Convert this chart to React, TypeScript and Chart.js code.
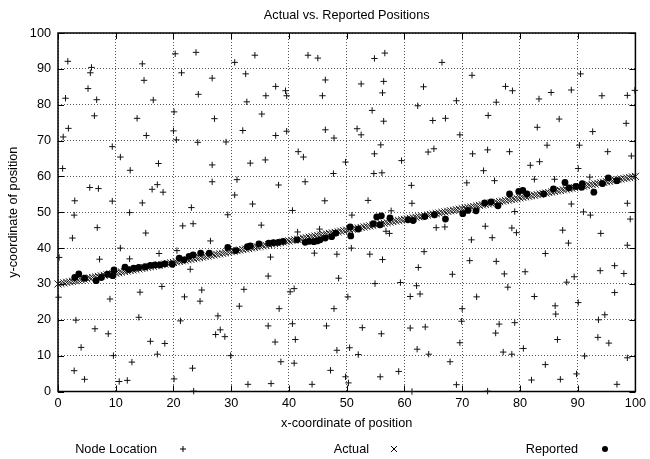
import React, { useEffect, useRef } from "react";
import { Chart, registerables } from "chart.js";

Chart.register(...registerables);

const titleText = "Actual vs. Reported Positions";
const xTitle = "x-coordinate of position";
const yTitle = "y-coordinate of position";
const legendLabels = ["Node Location", "Actual", "Reported"];
const axisMin = 0;
const axisMax = 100;
const tickStep = 10;

// Node Location (+)
const nodeX = [
  1.7, 5.8, 5.6, 5.2, 1.3, 6.7, 6.3, 1.8, 0.9, 0.8, 9.4, 10.8, 12.5, 5.5, 7.0, 2.9, 9.4,
  14.6, 14.9, 16.5, 13.7, 15.3, 17.4, 17.2, 16.3, 18.2, 14.6, 20.3, 23.9, 21.4, 26.7, 24.3,
  20.1, 27.1, 20.0, 20.5, 24.2, 29.1, 26.7, 26.7, 23.1, 30.6, 32.5, 32.7, 32.0, 31.0, 30.6,
  34.1, 37.7, 39.4, 39.6, 36.0, 35.3, 37.7, 39.6, 33.3, 35.9, 38.2, 33.7, 43.3, 45.0, 46.3,
  45.8, 46.3, 47.8, 41.6, 42.5, 49.8, 47.7, 42.8, 46.2, 54.8, 56.6, 52.5, 56.4, 56.2, 54.4,
  56.4, 51.8, 52.5, 55.9, 54.8, 59.5, 54.7, 56.1, 53.7, 61.2, 61.3, 63.3, 62.3, 64.9, 64.1,
  65.1,
  66.5, 71.7, 77.5, 78.7, 69.0, 75.9, 67.1, 74.5, 69.6, 71.8, 74.4, 78.2, 73.7, 75.6, 70.8,
  83.3, 85.4, 88.9, 90.5, 94.2, 98.6, 99.9, 83.0, 86.8, 92.6, 98.4, 84.7, 90.3, 95.2, 99.3,
  81.8, 83.4, 90.1, 82.5, 86.0, 92.1, 88.9, 98.6,
  2.8, 12.4, 29.4, 6.8, 21.6, 23.4, 15.2, 2.5, 26.4, 10.8, 17.5, 20.6, 0.2, 7.2, 12.4, 22.9,
  0.1, 9.0, 14.2, 18.0, 21.9, 24.9, 24.6, 32.2, 31.4, 14.0, 3.1, 21.2, 27.7, 6.4, 8.7, 27.3,
  28.1, 28.9, 4.0, 16.0, 18.5, 17.2, 9.6, 29.9, 12.8, 2.8, 23.3, 4.6, 10.6, 12.0, 20.1, 23.5,
  32.9,
  40.6, 50.9, 57.7, 35.2, 41.5, 45.3, 56.8, 57.4, 50.8, 44.4, 48.3, 54.0, 56.2, 63.4, 36.8,
  62.4, 36.4, 48.6, 54.9, 59.3, 62.1, 62.7, 61.0, 40.2, 40.9, 50.2, 38.3, 47.8, 36.4, 40.6,
  46.5, 52.7, 56.0, 61.0, 63.6, 37.6, 41.1, 48.3, 50.5, 52.0, 62.2, 64.2, 38.6, 40.9, 47.2,
  49.8, 50.3, 59.0, 55.8, 36.9, 44.0, 61.3,
  79.1, 91.0, 92.2, 99.1, 65.5, 67.0, 74.0, 78.6, 79.4, 71.6, 75.2, 87.4, 94.0, 88.4, 98.6,
  84.4, 71.3, 75.9, 68.3, 77.3, 80.9, 93.9, 96.4, 98.0, 89.4, 88.1, 77.9, 72.5, 82.5, 90.1,
  96.4, 70.0, 69.9, 86.1, 86.2, 94.7, 93.6, 76.4, 79.1, 75.8, 69.6, 86.5, 93.5, 95.4, 80.6,
  77.1, 78.6, 91.2, 98.6, 67.9, 84.4, 89.8, 82.0, 87.0, 69.0, 74.4, 96.8,
];
const nodeY = [
  92.1, 90.4, 88.9, 84.5, 81.8, 81.4, 76.9, 73.4, 71.0, 62.2, 68.3, 65.4, 61.7, 56.9, 56.6, 53.2, 53.1,
  91.4, 86.8, 81.3, 76.2, 71.4, 63.6, 57.7, 56.4, 55.6, 52.6, 94.2, 94.6, 88.9, 87.4, 82.9,
  78.0, 76.1, 72.7, 70.2, 69.5, 69.6, 63.2, 58.5, 51.3, 91.8, 88.6, 80.8, 72.8, 59.1, 54.8,
  93.8, 85.1, 83.9, 82.5, 82.5, 77.4, 71.4, 72.6, 63.7, 64.6, 57.6, 52.3, 93.8, 93.0, 86.9,
  82.5, 73.0, 70.7, 66.9, 65.4, 64.0, 60.8, 58.5, 53.2, 92.9, 94.4, 85.8, 86.5, 83.3, 78.4,
  75.4, 73.3, 71.6, 68.8, 66.3, 64.4, 60.8, 61.0, 53.3, 57.5, 52.5, 85.0, 79.7, 75.6, 66.8,
  67.7,
  91.8, 88.2, 85.1, 83.9, 81.1, 80.7, 76.2, 77.0, 71.6, 66.3, 67.4, 66.9, 61.6, 58.8, 58.2,
  81.6, 83.4, 84.1, 88.6, 82.5, 82.6, 84.0, 73.7, 76.0, 72.5, 74.8, 68.7, 68.7, 66.9, 65.7,
  63.1, 64.1, 62.2, 59.2, 59.2, 59.8, 52.3, 52.5,
  49.2, 49.9, 49.3, 45.7, 46.2, 46.8, 44.2, 42.8, 42.0, 40.0, 38.5, 39.3, 37.4, 36.9, 37.0, 34.1,
  26.3, 25.8, 27.7, 29.3, 26.4, 28.3, 25.2, 28.5, 23.8, 20.7, 19.9, 19.7, 21.1, 17.5, 16.1, 15.9,
  17.2, 15.3, 12.3, 14.0, 13.4, 10.4, 10.0, 10.0, 8.2, 5.8, 6.5, 3.4, 2.8, 3.1, 3.5, 0.1,
  2.0,
  50.5, 49.2, 50.4, 46.4, 44.5, 45.3, 44.7, 44.1, 40.0, 38.6, 38.3, 38.3, 36.8, 39.0, 37.5,
  34.6, 32.2, 31.6, 30.1, 30.4, 29.5, 27.2, 26.5, 27.8, 28.7, 26.4, 23.1, 23.1, 18.3, 18.9,
  18.3, 17.8, 16.1, 17.7, 18.0, 13.8, 14.5, 11.5, 12.2, 10.3, 11.8, 10.4, 8.3, 7.9, 5.9,
  4.1, 2.4, 5.6, 4.1, 2.2, 2.0, 0.0,
  50.2, 50.1, 49.2, 48.1, 45.7, 45.9, 46.1, 45.6, 44.3, 42.3, 42.9, 45.0, 44.1, 41.4, 40.8,
  38.5, 36.5, 36.3, 32.7, 32.8, 33.4, 33.7, 35.1, 32.9, 32.0, 30.5, 29.1, 26.4, 26.5, 24.8,
  27.6, 23.1, 19.6, 23.9, 21.6, 21.4, 20.0, 18.8, 19.2, 16.3, 13.6, 14.5, 15.1, 13.5, 12.0,
  11.0, 10.4, 9.9, 9.4, 8.3, 7.5, 4.9, 3.2, 3.4, 1.9, 0.1, 2.0,
];

// Actual (x)
const actualX = [
  0, 0.5, 1, 1.5, 2, 2.5, 3, 3.5, 4, 4.5, 5, 5.5, 6, 6.5, 7, 7.5, 8, 8.5, 9, 9.5,
  10, 10.5, 11, 11.5, 12, 12.5, 13, 13.5, 14, 14.5, 15, 15.5, 16, 16.5, 17, 17.5, 18, 18.5, 19, 19.5,
  20, 20.5, 21, 21.5, 22, 22.5, 23, 23.5, 24, 24.5, 25, 25.5, 26, 26.5, 27, 27.5, 28, 28.5, 29, 29.5,
  30, 30.5, 31, 31.5, 32, 32.5, 33, 33.5, 34, 34.5, 35, 35.5, 36, 36.5, 37, 37.5, 38, 38.5, 39, 39.5,
  40, 40.5, 41, 41.5, 42, 42.5, 43, 43.5, 44, 44.5, 45, 45.5, 46, 46.5, 47, 47.5, 48, 48.5, 49, 49.5,
  50, 50.5, 51, 51.5, 52, 52.5, 53, 53.5, 54, 54.5, 55, 55.5, 56, 56.5, 57, 57.5, 58, 58.5, 59, 59.5,
  60, 60.5, 61, 61.5, 62, 62.5, 63, 63.5, 64, 64.5, 65, 65.5, 66, 66.5, 67, 67.5, 68, 68.5, 69, 69.5,
  70, 70.5, 71, 71.5, 72, 72.5, 73, 73.5, 74, 74.5, 75, 75.5, 76, 76.5, 77, 77.5, 78, 78.5, 79, 79.5,
  80, 80.5, 81, 81.5, 82, 82.5, 83, 83.5, 84, 84.5, 85, 85.5, 86, 86.5, 87, 87.5, 88, 88.5, 89, 89.5,
  90, 90.5, 91, 91.5, 92, 92.5, 93, 93.5, 94, 94.5, 95, 95.5, 96, 96.5, 97, 97.5, 98, 98.5, 99, 99.5,
  100,
];
const actualY = [
  30, 30.15, 30.3, 30.45, 30.6, 30.75, 30.9, 31.05, 31.2, 31.35, 31.5, 31.65, 31.8, 31.95, 32.1, 32.25, 32.4, 32.55, 32.7, 32.85,
  33, 33.15, 33.3, 33.45, 33.6, 33.75, 33.9, 34.05, 34.2, 34.35, 34.5, 34.65, 34.8, 34.95, 35.1, 35.25, 35.4, 35.55, 35.7, 35.85,
  36, 36.15, 36.3, 36.45, 36.6, 36.75, 36.9, 37.05, 37.2, 37.35, 37.5, 37.65, 37.8, 37.95, 38.1, 38.25, 38.4, 38.55, 38.7, 38.85,
  39, 39.15, 39.3, 39.45, 39.6, 39.75, 39.9, 40.05, 40.2, 40.35, 40.5, 40.65, 40.8, 40.95, 41.1, 41.25, 41.4, 41.55, 41.7, 41.85,
  42, 42.15, 42.3, 42.45, 42.6, 42.75, 42.9, 43.05, 43.2, 43.35, 43.5, 43.65, 43.8, 43.95, 44.1, 44.25, 44.4, 44.55, 44.7, 44.85,
  45, 45.15, 45.3, 45.45, 45.6, 45.75, 45.9, 46.05, 46.2, 46.35, 46.5, 46.65, 46.8, 46.95, 47.1, 47.25, 47.4, 47.55, 47.7, 47.85,
  48, 48.15, 48.3, 48.45, 48.6, 48.75, 48.9, 49.05, 49.2, 49.35, 49.5, 49.65, 49.8, 49.95, 50.1, 50.25, 50.4, 50.55, 50.7, 50.85,
  51, 51.15, 51.3, 51.45, 51.6, 51.75, 51.9, 52.05, 52.2, 52.35, 52.5, 52.65, 52.8, 52.95, 53.1, 53.25, 53.4, 53.55, 53.7, 53.85,
  54, 54.15, 54.3, 54.45, 54.6, 54.75, 54.9, 55.05, 55.2, 55.35, 55.5, 55.65, 55.8, 55.95, 56.1, 56.25, 56.4, 56.55, 56.7, 56.85,
  57, 57.15, 57.3, 57.45, 57.6, 57.75, 57.9, 58.05, 58.2, 58.35, 58.5, 58.65, 58.8, 58.95, 59.1, 59.25, 59.4, 59.55, 59.7, 59.85,
  60,
];

// Reported (filled dots)
const reportedX = [
  2.9, 3.6, 4.6, 6.6, 7.5, 8.6, 9.5, 9.7, 11.6, 12.2, 13.1, 14.0, 15.1, 16.0, 16.8, 17.7, 18.5,
  19.8, 21.0, 21.8, 22.7, 23.4, 24.7, 26.2, 29.4, 30.8, 32.8, 33.3, 34.8, 36.5, 37.3, 38.2,
  39.0, 41.4, 42.8, 43.5, 44.3, 44.9, 45.4, 46.3, 47.4, 48.1, 50.6, 50.7, 52.0, 54.6, 55.2,
  56.0, 55.8, 57.5, 60.6, 61.5, 63.5, 65.2, 67.1, 70.1, 71.0, 72.4, 73.9, 75.0, 76.2, 78.2,
  79.8, 80.5, 81.2, 84.1, 85.8, 87.8, 88.5, 89.7, 90.7, 90.8, 92.8, 94.3, 95.3, 96.8,
];
const reportedY = [
  31.8, 32.8, 31.6, 30.9, 31.8, 32.7, 32.3, 33.9, 34.7, 34.0, 34.4, 34.6, 34.8, 35.2, 35.3, 35.3, 35.6,
  35.5, 37.2, 36.7, 37.7, 38.1, 38.6, 38.6, 40.2, 39.3, 40.4, 40.6, 41.2, 41.4, 41.5, 41.6,
  41.9, 42.3, 41.6, 41.9, 41.8, 42.0, 42.3, 42.8, 43.2, 44.2, 45.9, 43.4, 45.3, 46.8, 48.7,
  49.0, 46.5, 48.4, 47.9, 47.7, 48.8, 49.3, 48.1, 49.6, 50.5, 50.4, 52.6, 52.9, 51.8, 55.1,
  55.8, 56.1, 55.1, 55.1, 56.5, 58.3, 56.8, 57.2, 57.0, 58.0, 55.6, 58.0, 59.6, 58.8,
];

const FONT_FAMILY = "'Liberation Sans', Arial, Helvetica, sans-serif";
const FONT_SIZE = 12.7;

function toPoints(xs: number[], ys: number[]) {
  return xs.map((x, i) => ({ x, y: ys[i] }));
}

const decorPlugin = {
  id: "gnuplotDecor",
  beforeDatasetsDraw(chart: any) {
    const { ctx, chartArea: a, scales } = chart;
    ctx.save();
    ctx.strokeStyle = "#000";
    ctx.lineWidth = 1;
    const tl = 6;
    ctx.beginPath();
    for (let v = axisMin; v <= axisMax; v += tickStep) {
      const px = Math.round(scales.x.getPixelForValue(v)) + 0.5;
      ctx.moveTo(px, a.bottom);
      ctx.lineTo(px, a.bottom - tl);
      ctx.moveTo(px, a.top);
      ctx.lineTo(px, a.top + tl);
      const py = Math.round(scales.y.getPixelForValue(v)) + 0.5;
      ctx.moveTo(a.left, py);
      ctx.lineTo(a.left + tl, py);
      ctx.moveTo(a.right, py);
      ctx.lineTo(a.right - tl, py);
    }
    ctx.stroke();
    ctx.lineWidth = 1.5;
    ctx.strokeRect(a.left, a.top, a.right - a.left, a.bottom - a.top);
    ctx.restore();
  },
  afterDraw(chart: any) {
    const { ctx, chartArea: a } = chart;
    ctx.save();
    ctx.fillStyle = "#000";
    ctx.strokeStyle = "#000";
    ctx.font = `${FONT_SIZE}px ${FONT_FAMILY}`;
    ctx.textBaseline = "middle";
    ctx.textAlign = "center";
    ctx.fillText(titleText, (a.left + a.right) / 2, 15);

    const ly = 449;
    const entries = [
      { textRight: 157, mark: 183, kind: "plus" },
      { textRight: 369, mark: 394, kind: "x" },
      { textRight: 578, mark: 605, kind: "dot" },
    ];
    ctx.textAlign = "right";
    entries.forEach((e, i) => {
      ctx.fillText(legendLabels[i], e.textRight, ly);
      ctx.lineWidth = 1;
      ctx.beginPath();
      if (e.kind === "plus") {
        ctx.moveTo(e.mark - 3, ly);
        ctx.lineTo(e.mark + 3, ly);
        ctx.moveTo(e.mark, ly - 3);
        ctx.lineTo(e.mark, ly + 3);
        ctx.stroke();
      } else if (e.kind === "x") {
        ctx.moveTo(e.mark - 3, ly - 3);
        ctx.lineTo(e.mark + 3, ly + 3);
        ctx.moveTo(e.mark - 3, ly + 3);
        ctx.lineTo(e.mark + 3, ly - 3);
        ctx.stroke();
      } else {
        ctx.arc(e.mark, ly, 3, 0, Math.PI * 2);
        ctx.fill();
      }
    });
    ctx.restore();
  },
};

export default function App() {
  const canvasRef = useRef<HTMLCanvasElement | null>(null);

  useEffect(() => {
    if (!canvasRef.current) return;
    const font = { family: FONT_FAMILY, size: FONT_SIZE };
    const chart = new Chart(canvasRef.current, {
      type: "scatter",
      data: {
        datasets: [
          {
            label: legendLabels[2],
            data: toPoints(reportedX, reportedY),
            pointStyle: "circle",
            pointRadius: 3.4,
            backgroundColor: "#000",
            borderColor: "#000",
            borderWidth: 0,
            order: 1,
            clip: false as any,
          },
          {
            label: legendLabels[1],
            data: toPoints(actualX, actualY),
            pointStyle: "crossRot",
            pointRadius: 5,
            borderColor: "#1a1a1a",
            borderWidth: 1,
            order: 2,
            clip: false as any,
          },
          {
            label: legendLabels[0],
            data: toPoints(nodeX, nodeY),
            pointStyle: "cross",
            pointRadius: 3.2,
            borderColor: "#111",
            borderWidth: 1,
            order: 3,
            clip: false as any,
          },
        ],
      },
      options: {
        animation: false,
        responsive: true,
        maintainAspectRatio: false,
        layout: { padding: { top: 33, right: 12, bottom: 0, left: 0 } },
        plugins: {
          legend: { display: false },
          title: { display: false },
          tooltip: { enabled: false },
        },
        events: [],
        scales: {
          x: {
            type: "linear",
            min: axisMin,
            max: axisMax,
            afterFit: (s: any) => {
              s.height = 67.5;
            },
            ticks: {
              stepSize: tickStep,
              autoSkip: false,
              maxRotation: 0,
              padding: 4,
              color: "#000",
              font,
            },
            grid: { color: "#555", lineWidth: 1, drawTicks: false },
            border: { display: false, dash: [1, 2] },
            title: {
              display: true,
              text: xTitle,
              color: "#000",
              font,
              padding: { top: 0, bottom: 28 },
            },
          },
          y: {
            type: "linear",
            min: axisMin,
            max: axisMax,
            afterFit: (s: any) => {
              s.width = 58;
            },
            ticks: {
              stepSize: tickStep,
              autoSkip: false,
              padding: 7,
              color: "#000",
              font,
            },
            grid: { color: "#555", lineWidth: 1, drawTicks: false },
            border: { display: false, dash: [1, 2] },
            title: {
              display: true,
              text: yTitle,
              color: "#000",
              font,
              padding: { top: 6, bottom: 0 },
            },
          },
        },
      },
      plugins: [decorPlugin],
    });
    return () => chart.destroy();
  }, []);

  return (
    <div style={{ position: "fixed", left: 0, top: 0, width: 650, height: 459, background: "#fff" }}>
      <canvas ref={canvasRef} />
    </div>
  );
}
